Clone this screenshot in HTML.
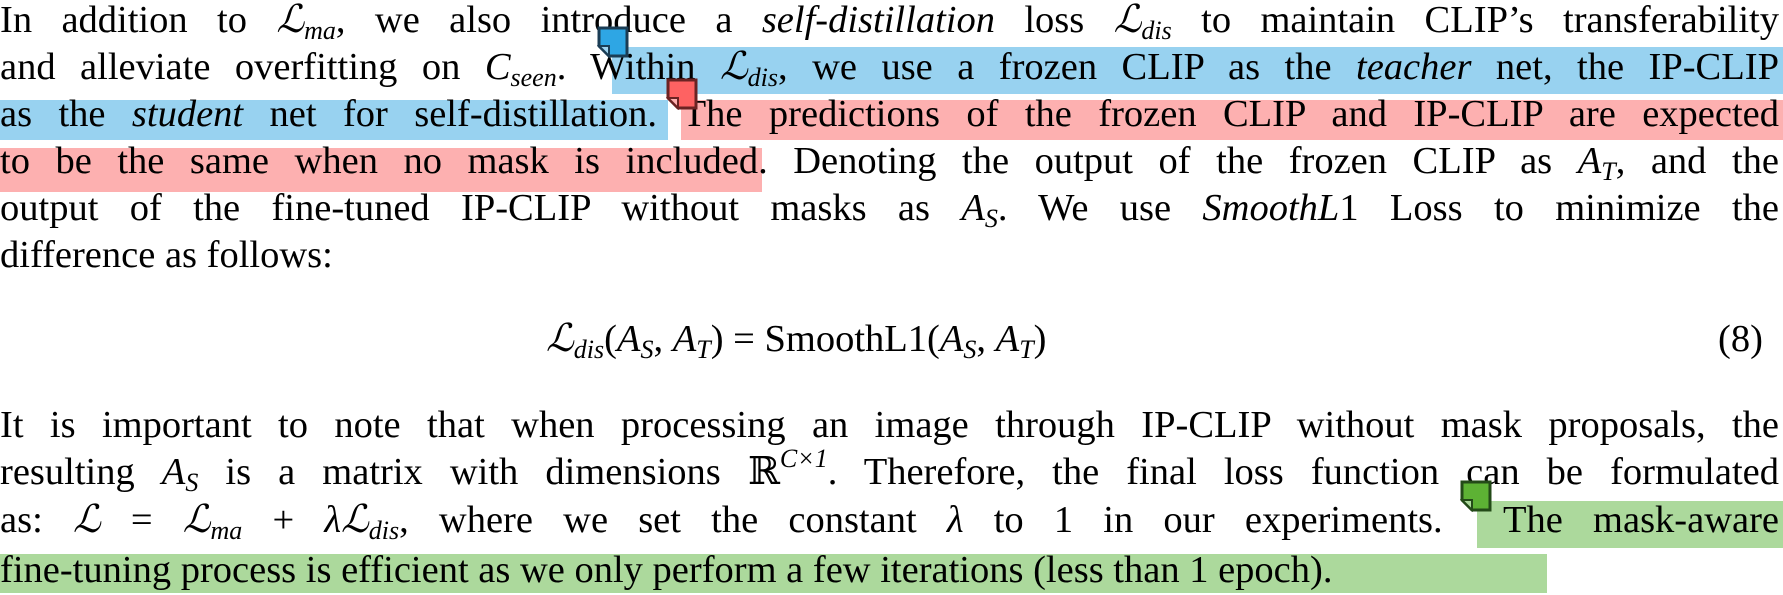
<!DOCTYPE html>
<html><head><meta charset="utf-8">
<style>
html,body{margin:0;padding:0;background:#fff;}
body{width:1783px;height:595px;position:relative;overflow:hidden;font-family:"Liberation Serif","DejaVu Serif",serif;color:#000;}
.ln{position:absolute;left:0;width:1779px;font-size:38.5px;line-height:47px;height:47px;white-space:nowrap;text-align:justify;text-align-last:justify;overflow:hidden;}
.nl{text-align:left;text-align-last:left;}
.hl{position:absolute;}
.m{font-style:italic;}
.s{font-size:26px;font-style:italic;vertical-align:-7px;line-height:0;}
.sup{font-size:26px;font-style:italic;vertical-align:17px;line-height:0;}
.icon{position:absolute;width:32px;height:32px;}
</style></head><body>
<div class="hl" style="left:612px;top:47px;width:1171px;height:47px;background:#98d2f0"></div>
<div class="hl" style="left:0;top:100px;width:668px;height:40px;background:#98d2f0"></div>
<div class="hl" style="left:681px;top:100px;width:1102px;height:40px;background:#fdb0b0"></div>
<div class="hl" style="left:0;top:148px;width:762px;height:44px;background:#fdb0b0"></div>
<div class="hl" style="left:1477px;top:501px;width:306px;height:47px;background:#acd99c"></div>
<div class="hl" style="left:0;top:554px;width:1547px;height:39px;background:#acd99c"></div>

<div class="ln" style="top:-3px">In addition to <span class="m">ℒ</span><span class="s">ma</span>, we also introduce a <i>self-distillation</i> loss <span class="m">ℒ</span><span class="s">dis</span> to maintain CLIP’s transferability</div>
<div class="ln" style="top:44px">and alleviate overfitting on <span class="m">C</span><span class="s">seen</span>. Within <span class="m">ℒ</span><span class="s">dis</span>, we use a frozen CLIP as the <i>teacher</i> net, the IP-CLIP</div>
<div class="ln" style="top:91px">as the <i>student</i> net for self-distillation. The predictions of the frozen CLIP and IP-CLIP are expected</div>
<div class="ln" style="top:138px">to be the same when no mask is included. Denoting the output of the frozen CLIP as <span class="m">A</span><span class="s">T</span>, and the</div>
<div class="ln" style="top:185px">output of the fine-tuned IP-CLIP without masks as <span class="m">A</span><span class="s">S</span>. We use <span class="m">SmoothL</span>1 Loss to minimize the</div>
<div class="ln nl" style="top:232px">difference as follows:</div>

<div class="ln nl" style="top:316px;left:546px;width:800px"><span class="m">ℒ</span><span class="s">dis</span>(<span class="m">A</span><span class="s">S</span>, <span class="m">A</span><span class="s">T</span>) = SmoothL1(<span class="m">A</span><span class="s">S</span>, <span class="m">A</span><span class="s">T</span>)</div>
<div class="ln nl" style="top:316px;left:1718px;width:63px">(8)</div>

<div class="ln" style="top:402px">It is important to note that when processing an image through IP-CLIP without mask proposals, the</div>
<div class="ln" style="top:449px">resulting <span class="m">A</span><span class="s">S</span> is a matrix with dimensions ℝ<span class="sup">C×1</span>. Therefore, the final loss function can be formulated</div>
<div class="ln" style="top:497px">as: <span class="m">ℒ</span> = <span class="m">ℒ</span><span class="s">ma</span> + <span class="m">λℒ</span><span class="s">dis</span>, where we set the constant <span class="m">λ</span> to 1 in our experiments. &nbsp;The mask-aware</div>
<div class="ln nl" style="top:547px">fine-tuning process is efficient as we only perform a few iterations (less than 1 epoch).</div>

<svg class="icon" style="left:597px;top:26px" viewBox="0 0 32 32"><path d="M2 2H30V30H12L2 20Z" fill="#2ea6e4" stroke="#1b3d55" stroke-width="3"/><path d="M2 20H12V30Z" fill="#9fd3ef" stroke="#1b3d55" stroke-width="2"/></svg>
<svg class="icon" style="left:666px;top:78px" viewBox="0 0 32 32"><path d="M2 2H30V30H12L2 20Z" fill="#fe6262" stroke="#6b2323" stroke-width="3"/><path d="M2 20H12V30Z" fill="#fdb0b0" stroke="#6b2323" stroke-width="2"/></svg>
<svg class="icon" style="left:1460px;top:480px" viewBox="0 0 32 32"><path d="M2 2H30V30H12L2 20Z" fill="#5db234" stroke="#234a18" stroke-width="3"/><path d="M2 20H12V30Z" fill="#acd99c" stroke="#234a18" stroke-width="2"/></svg>
</body></html>
